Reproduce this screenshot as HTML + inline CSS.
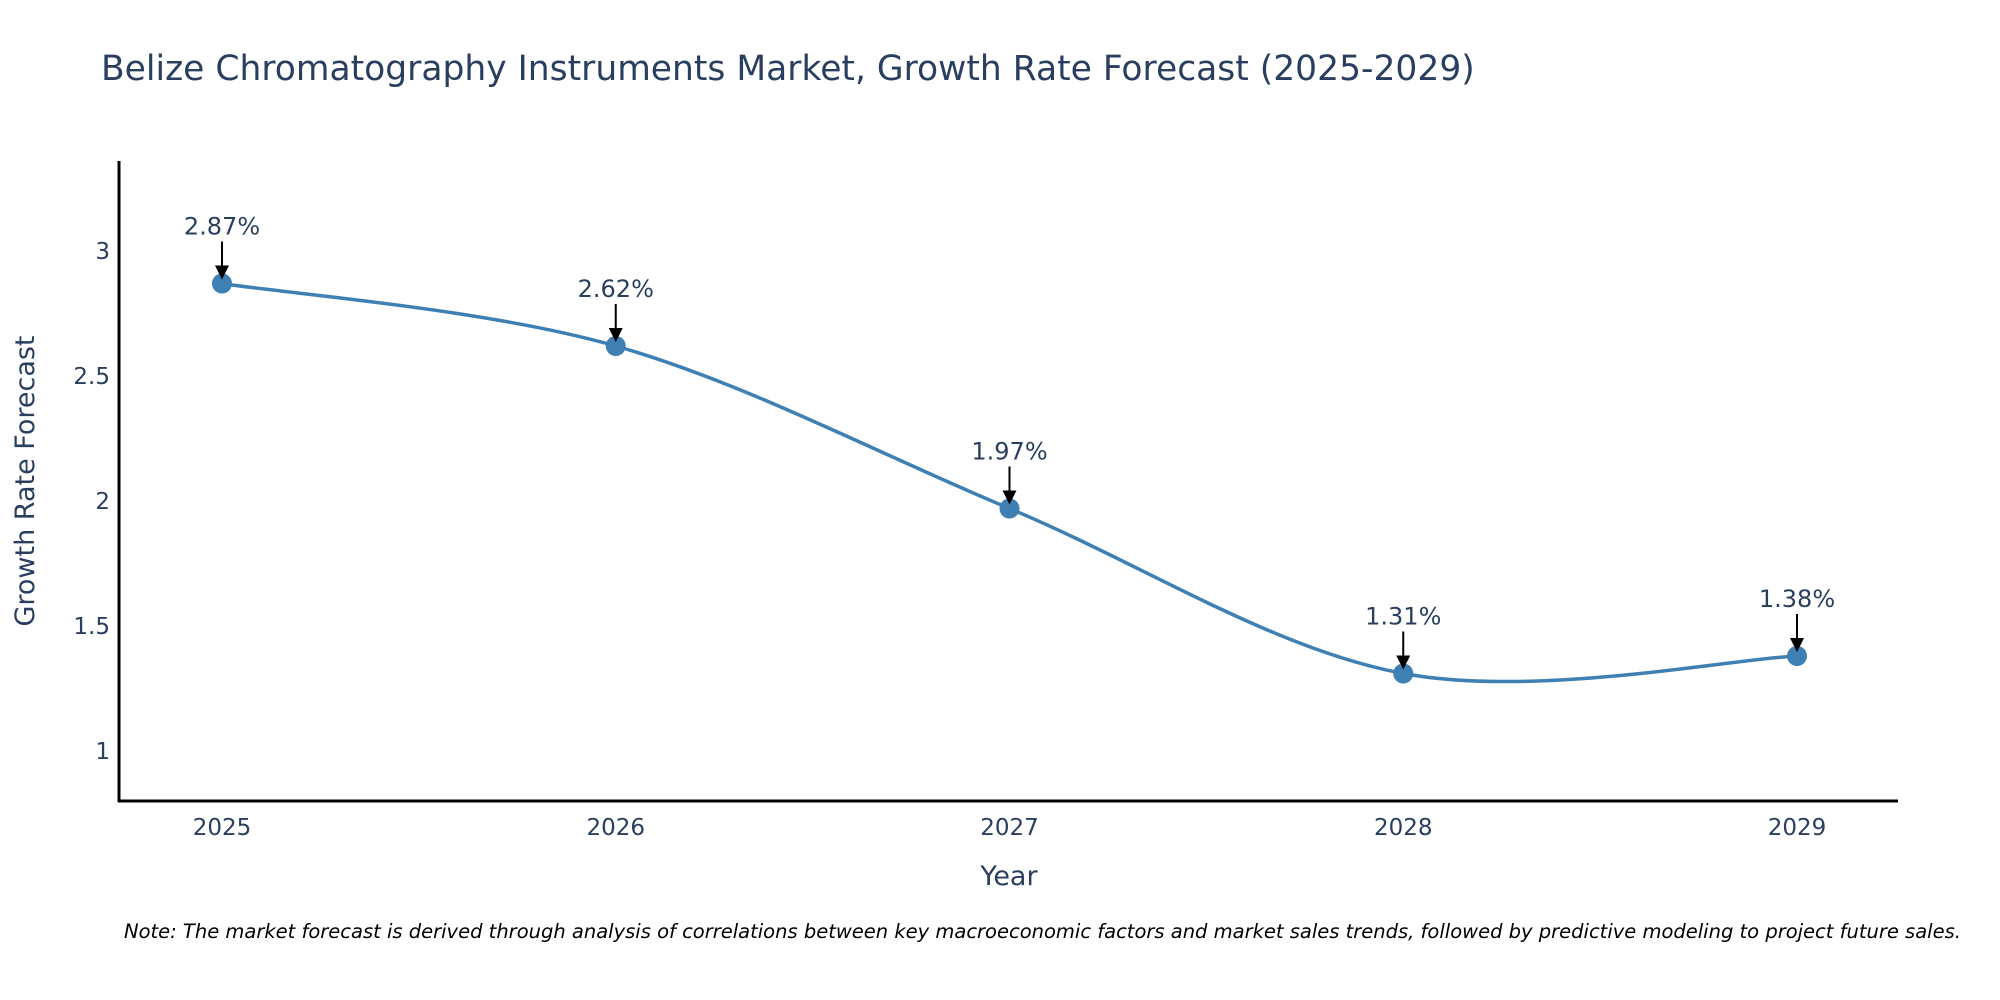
<!DOCTYPE html>
<html><head><meta charset="utf-8"><style>
html,body{margin:0;padding:0;background:#fff;}
svg{display:block;font-family:"DejaVu Sans","Liberation Sans",sans-serif;}
</style></head><body>
<svg id="chart" width="2000" height="1000">
<text x="101" y="80" font-size="34.5" fill="#2a3f5f">Belize Chromatography Instruments Market, Growth Rate Forecast (2025-2029)</text>
<g id="yticks"></g><g id="xticks"></g>
<line x1="119" y1="161" x2="119" y2="802" stroke="#000" stroke-width="3"/>
<line x1="118" y1="801" x2="1898" y2="801" stroke="#000" stroke-width="3"/>
<path id="line" fill="none" stroke="#3f80b4" stroke-width="3.5"/>
<g id="marks"></g>
<text x="1009" y="885" font-size="27" fill="#2a3f5f" text-anchor="middle">Year</text>
<text transform="translate(34,481) rotate(-90)" font-size="27" fill="#2a3f5f" text-anchor="middle">Growth Rate Forecast</text>
<text x="124" y="938" font-size="19.5" font-style="italic" fill="#000">Note: The market forecast is derived through analysis of correlations between key macroeconomic factors and market sales trends, followed by predictive modeling to project future sales.</text>
</svg>
<script>
const years = [2025, 2026, 2027, 2028, 2029];
const values = [2.87, 2.62, 1.97, 1.31, 1.38];
const labels = ["2.87%", "2.62%", "1.97%", "1.31%", "1.38%"];
const yTicks = [1, 1.5, 2, 2.5, 3];
const NS = "http://www.w3.org/2000/svg";
function xs(v){return 222 + (v-2025)*393.75;}
function ys(v){return 751 - (v-1)*250;}
function mk(tag, attrs, parent){const e=document.createElementNS(NS,tag);for(const k in attrs)e.setAttribute(k,attrs[k]);parent.appendChild(e);return e;}
const yt=document.getElementById('yticks'), xt=document.getElementById('xticks'), mg=document.getElementById('marks');
yTicks.forEach(t=>{const e=mk('text',{x:110,y:ys(t)+8,'font-size':23,fill:'#2a3f5f','text-anchor':'end'},yt);e.textContent=String(t);

});
years.forEach(y=>{const e=mk('text',{x:xs(y),y:835,'font-size':23,fill:'#2a3f5f','text-anchor':'middle'},xt);e.textContent=String(y);

});
const P=years.map((y,i)=>[xs(y),ys(values[i])]);
let d='M'+P[0][0]+','+P[0][1];const s=1/6;
for(let i=0;i<P.length-1;i++){const p0=P[Math.max(0,i-1)],p1=P[i],p2=P[i+1],p3=P[Math.min(P.length-1,i+2)];
const c1=[p1[0]+(p2[0]-p0[0])*s,p1[1]+(p2[1]-p0[1])*s],c2=[p2[0]-(p3[0]-p1[0])*s,p2[1]-(p3[1]-p1[1])*s];
d+=' C'+c1+' '+c2+' '+p2;}
document.getElementById('line').setAttribute('d',d);
P.forEach((p,i)=>{
const c=mk('circle',{cx:p[0],cy:p[1],r:10,fill:'#3f80b4'},mg);


const l=mk('line',{x1:p[0],y1:p[1]-42,x2:p[0],y2:p[1]-16,stroke:'#000','stroke-width':2},mg);


const h=mk('polygon',{points:(p[0]-7)+','+(p[1]-18)+' '+(p[0]+7)+','+(p[1]-18)+' '+p[0]+','+(p[1]-4),fill:'#000'},mg);


const t=mk('text',{x:p[0],y:p[1]-49,'font-size':24,fill:'#2a3f5f','text-anchor':'middle'},mg);t.textContent=labels[i];


});
</script>
</body></html>
